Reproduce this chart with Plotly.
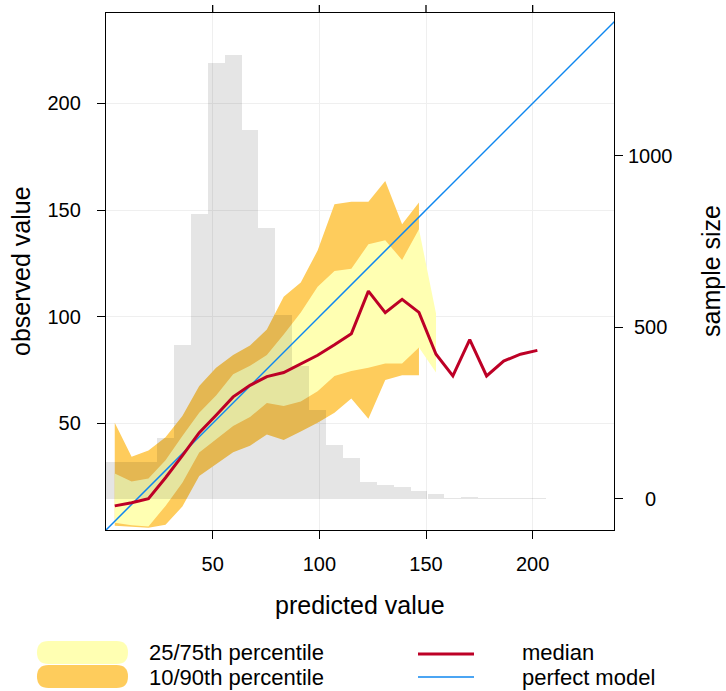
import plotly.graph_objects as go

# ---- data ----
bin_mid = [4.1, 12.0, 19.9, 27.9, 35.8, 43.7, 51.6, 59.6, 67.5, 75.4, 83.3, 91.3, 99.2,
           107.1, 115.0, 123.0, 130.9, 138.8, 146.7, 154.7, 162.6, 170.5, 178.4, 186.4,
           194.3, 202.2]
bin_width = 7.93
median = [11.3, 12.8, 14.7, 24.5, 34.9, 45.6, 53.8, 62.4, 67.8, 71.9, 73.8, 77.7, 81.9,
          86.8, 92.0, 112.0, 101.9, 108.1, 102.0, 82.4, 72.2, 89.2, 72.2, 79.2, 82.4, 84.2]
q90 = [50.3, 34.3, 37.3, 43.5, 53.4, 67.5, 76.1, 82.0, 86.5, 94.0, 109.3, 116.0, 131.0,
       152.7, 153.9, 153.9, 163.6, 143.3, 153.5]
q10 = [2.0, 1.5, 1.1, 2.5, 11.0, 25.3, 30.8, 36.5, 39.5, 44.8, 42.2, 46.2, 50.3,
       55.0, 61.6, 52.2, 70.3, 72.5, 72.5]
q75 = [26.5, 22.7, 24.1, 32.7, 44.1, 55.0, 63.0, 73.0, 77.0, 82.0, 91.7, 102.0, 114.0,
       121.4, 122.5, 133.9, 135.8, 126.6, 141.0, 101.5]
q25 = [3.4, 2.2, 1.6, 11.3, 22.2, 36.3, 42.5, 48.8, 53.0, 59.5, 58.1, 60.2, 65.0,
       72.2, 74.5, 76.1, 78.1, 78.1, 85.5, 73.8]
counts = [107, 107, 107, 177, 448, 831, 1272, 1295, 1075, 789, 535, 387, 258, 155, 119,
          48, 39, 34, 22, 13, 2, 5, 1, 1, 1, 1]
perfect = [0, 250]

x_ticks = [50, 100, 150, 200]
y_ticks = [50, 100, 150, 200]
n_ticks = [0, 500, 1000]
legend_band_labels = ["25/75th percentile", "10/90th percentile"]
legend_line_labels = ["median", "perfect model"]

# ---- styling ----
FONT = "Liberation Sans"
C_Y = "#FFFFB2"
C_O = "#FECC5C"
C_MED = "#BD0026"
C_PM = "#0F87EF"
TICK_SIZE = 20
TITLE_SIZE = 25
LEG_SIZE = 22
TICKLEN = 8

PL, PR, PT, PB = 106, 614, 13, 530          # plot area in screenshot pixels
FW, FH = 726, 691
L, T = PL, PT
pw, ph = PR - PL, PB - PT
R = FW - L - pw
B = FH - T - ph

fig = go.Figure()

n90 = len(q90)
n75 = len(q75)
fig.add_trace(go.Scatter(
    x=bin_mid[:n90] + bin_mid[:n90][::-1], y=q90 + q10[::-1],
    fill="toself", fillcolor=C_O, line=dict(width=0), mode="lines",
    hoverinfo="skip", showlegend=False, xaxis="x", yaxis="y"))
fig.add_trace(go.Scatter(
    x=bin_mid[:n75] + bin_mid[:n75][::-1], y=q75 + q25[::-1],
    fill="toself", fillcolor=C_Y, line=dict(width=0), mode="lines",
    hoverinfo="skip", showlegend=False, xaxis="x", yaxis="y"))

fig.add_trace(go.Bar(
    x=bin_mid, y=counts, width=bin_width,
    marker=dict(color="rgba(0,0,0,0.1)", line=dict(width=0)),
    showlegend=False, xaxis="x", yaxis="y2"))

fig.add_trace(go.Scatter(
    x=perfect, y=perfect, mode="lines", line=dict(color=C_PM, width=1.5),
    showlegend=False, xaxis="x", yaxis="y3"))
fig.add_trace(go.Scatter(
    x=bin_mid, y=median, mode="lines", line=dict(color=C_MED, width=3),
    showlegend=False, xaxis="x", yaxis="y3"))

scale = 2.1333                   # px per data unit (both axes)
xr = [0, pw / scale]
yr = [0, ph / scale]
nscale = 0.3427                  # px per count
n0_px = 498.5
nr = [-(PB - n0_px) / nscale, (n0_px - PT) / nscale]

tickfont = dict(family=FONT, size=TICK_SIZE, color="black")
axcommon = dict(ticks="outside", ticklen=TICKLEN, tickwidth=1.3, tickcolor="black",
                showline=True, linecolor="black", linewidth=1.3, zeroline=False,
                automargin=False, tickfont=tickfont)
fig.update_layout(
    template="none",
    width=FW, height=FH, margin=dict(l=L, r=R, t=T, b=B, pad=0, autoexpand=False),
    paper_bgcolor="white", plot_bgcolor="white", bargap=0, showlegend=False,
    font=dict(family=FONT, color="black"),
    xaxis=dict(range=xr, tickvals=x_ticks, mirror=True, showgrid=True,
               gridcolor="#EFEFEF", gridwidth=1.3, ticklabelstandoff=8, **axcommon),
    yaxis=dict(range=yr, tickvals=y_ticks, showgrid=True, gridcolor="#EFEFEF",
               gridwidth=1.3, ticklabelstandoff=12, **axcommon),
    yaxis2=dict(range=nr, overlaying="y", side="right", tickvals=n_ticks,
                showticklabels=False, showgrid=False, **axcommon),
    yaxis3=dict(range=yr, overlaying="y", visible=False),
)

def px2paper(px, py):
    return (px - PL) / pw, (PB - py) / ph

annotations = []
def add_text(px, py, text, size, xanchor="left", textangle=0):
    xp, yp = px2paper(px, py)
    annotations.append(dict(x=xp, y=yp, xref="paper", yref="paper", text=text,
                            showarrow=False, xanchor=xanchor, yanchor="middle",
                            textangle=textangle,
                            font=dict(family=FONT, size=size, color="black")))

# right-axis tick labels (centred, as in the reference), placed on the count scale
for v in n_ticks:
    annotations.append(dict(x=(650 - PL) / pw, y=v, xref="paper", yref="y2",
                            text=str(v), showarrow=False, xanchor="center",
                            yanchor="middle",
                            font=dict(family=FONT, size=TICK_SIZE, color="black")))

add_text(360, 605, "predicted value", TITLE_SIZE, xanchor="center")
add_text(21, 271, "observed value", TITLE_SIZE, xanchor="center", textangle=-90)
add_text(711, 271, "sample size", TITLE_SIZE, xanchor="center", textangle=-90)

shapes = []
# tick marks on the top edge of the frame, positioned through the x-axis range
for v in x_ticks:
    xp = (v - xr[0]) / (xr[1] - xr[0])
    shapes.append(dict(type="line", xref="paper", yref="paper", x0=xp, x1=xp,
                       y0=1, y1=1 + TICKLEN / ph, line=dict(color="black", width=1.3)))

def pill(x0, y0, x1, y1, color):
    r = (y1 - y0) / 2
    def P(px, py):
        a, b = px2paper(px, py)
        return f"{a:.5f},{b:.5f}"
    path = (f"M {P(x0 + r, y0)} L {P(x1 - r, y0)} "
            f"Q {P(x1, y0)} {P(x1, y0 + r)} Q {P(x1, y1)} {P(x1 - r, y1)} "
            f"L {P(x0 + r, y1)} Q {P(x0, y1)} {P(x0, y0 + r)} Q {P(x0, y0)} {P(x0 + r, y0)} Z")
    shapes.append(dict(type="path", path=path, xref="paper", yref="paper",
                       fillcolor=color, line=dict(width=0), layer="above"))

pill(37, 641, 128, 664, C_Y)
pill(37, 665, 128, 688, C_O)

def hline(x0, x1, py, color, width):
    a0, b = px2paper(x0, py)
    a1, _ = px2paper(x1, py)
    shapes.append(dict(type="line", x0=a0, x1=a1, y0=b, y1=b, xref="paper", yref="paper",
                       line=dict(color=color, width=width)))

hline(418, 474, 654, C_MED, 3)
hline(418, 474, 677, C_PM, 1.5)

add_text(147, 652.5, legend_band_labels[0], LEG_SIZE)
add_text(147, 677.5, legend_band_labels[1], LEG_SIZE)
add_text(520, 652.5, legend_line_labels[0], LEG_SIZE)
add_text(520, 677.5, legend_line_labels[1], LEG_SIZE)

fig.update_layout(annotations=annotations, shapes=shapes)
fig.write_html("out.html", config={"displayModeBar": False},
               post_script="document.body.style.margin='0';"
                           "document.body.style.overflow='hidden';")
